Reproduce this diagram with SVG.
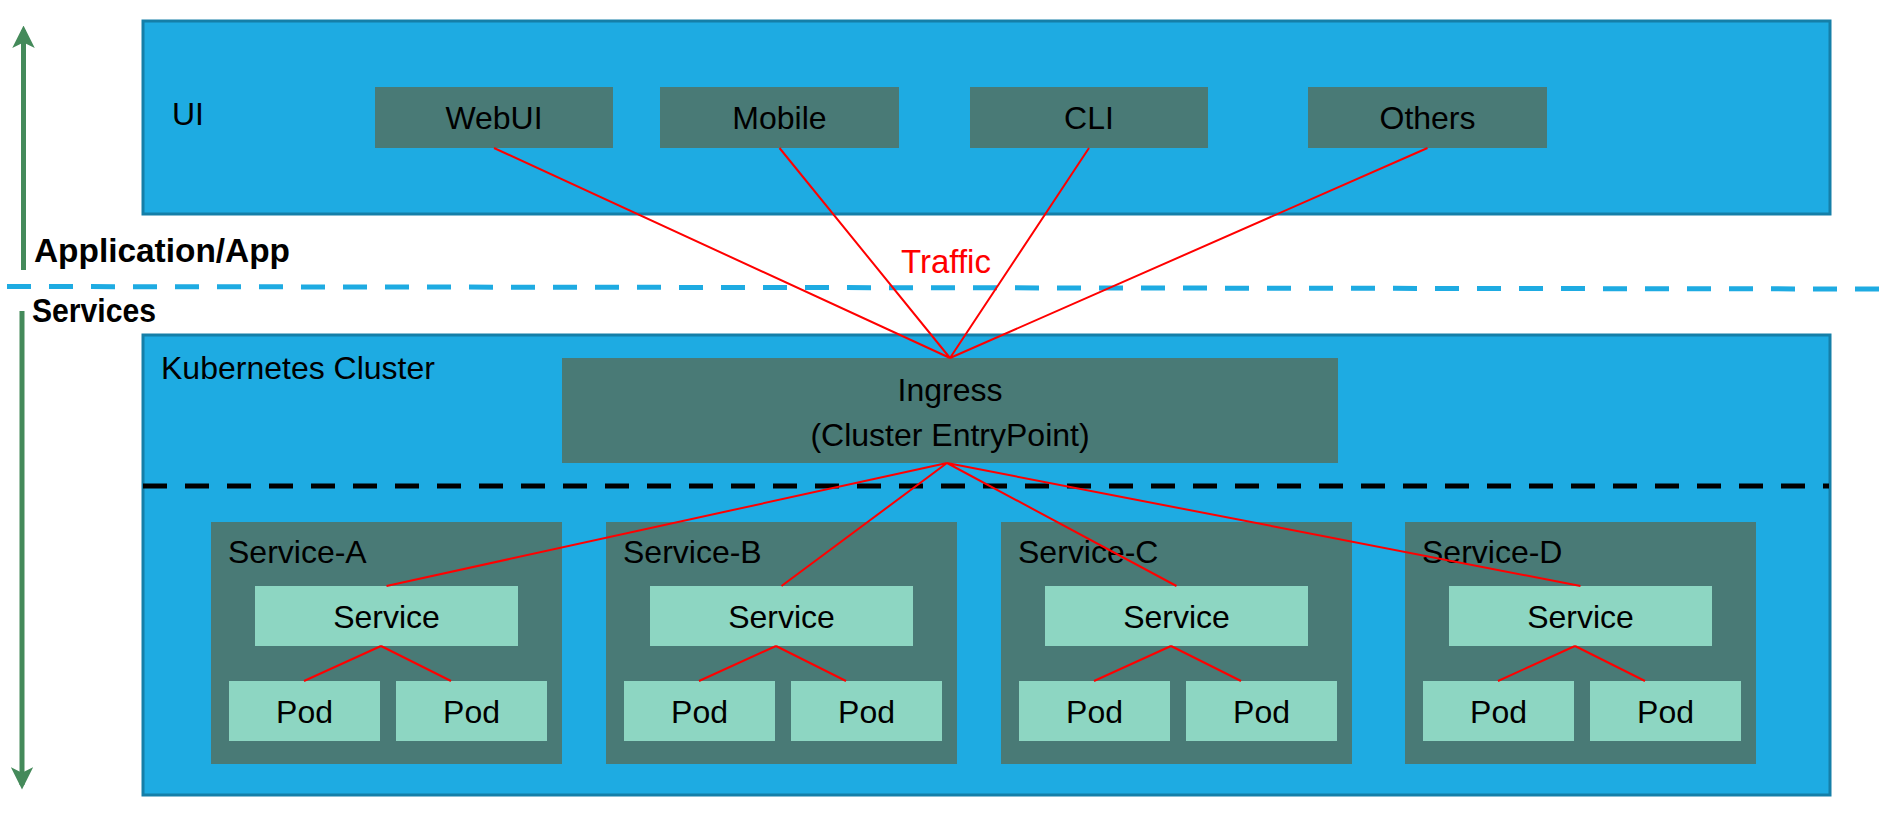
<svg xmlns="http://www.w3.org/2000/svg" width="1879" height="816" viewBox="0 0 1879 816">
<style>
.big{fill:#1eabe2;stroke:#157fa8;stroke-width:3}
.dk{fill:#497a76}
.lt{fill:#8dd6c2}
.t{font-family:"Liberation Sans",Arial,sans-serif;font-size:32px;fill:#000}
.c{text-anchor:middle}
.b{font-family:"Liberation Sans",Arial,sans-serif;font-weight:bold;font-size:34px;fill:#000}
.red{stroke:#ff0000;stroke-width:2;fill:none}
.grn{stroke:#448a5a;stroke-width:5;fill:none}
</style>
<defs>
<marker id="ah" viewBox="0 0 10 10" refX="8" refY="5" markerWidth="4.5" markerHeight="4.5" orient="auto" markerUnits="strokeWidth">
<path d="M0,0 L10,5 L0,10 L2.5,5 Z" fill="#448a5a"/>
</marker>
</defs>
<rect width="1879" height="816" fill="#fff"/>

<g id="ui-layer">
<rect class="big" x="143" y="21" width="1687" height="193"/>
<text class="t" x="172" y="125">UI</text>
</g>
<g id="webui"><rect class="dk" x="375" y="87" width="238" height="61"/><text class="t c" x="494" y="129">WebUI</text></g>
<g id="mobile"><rect class="dk" x="660" y="87" width="239" height="61"/><text class="t c" x="779.5" y="129">Mobile</text></g>
<g id="cli"><rect class="dk" x="970" y="87" width="238" height="61"/><text class="t c" x="1089" y="129">CLI</text></g>
<g id="others"><rect class="dk" x="1308" y="87" width="239" height="61"/><text class="t c" x="1427.5" y="129">Others</text></g>

<g id="layer-labels">
<text class="b" x="34" y="262" textLength="256" lengthAdjust="spacingAndGlyphs">Application/App</text>
<text class="b" x="32" y="322" textLength="124" lengthAdjust="spacingAndGlyphs">Services</text>
<line x1="7" y1="286.5" x2="1879" y2="289" stroke="#1eabe2" stroke-width="5" stroke-dasharray="24 18"/>
</g>

<g id="arrows">
<line class="grn" x1="23.5" y1="270" x2="23.5" y2="30" marker-end="url(#ah)"/>
<line class="grn" x1="22" y1="311" x2="22" y2="785" marker-end="url(#ah)"/>
</g>

<g id="cluster">
<rect class="big" x="143" y="335" width="1687" height="460"/>
<text class="t" x="161" y="379">Kubernetes Cluster</text>
<line x1="143" y1="486" x2="1829" y2="486" stroke="#000" stroke-width="5" stroke-dasharray="24 18"/>
</g>

<g id="ingress">
<rect class="dk" x="562" y="358" width="776" height="105"/>
<text class="t c" x="950" y="401">Ingress</text>
<text class="t c" x="950" y="446">(Cluster EntryPoint)</text>
</g>

<g id="service-a">
<rect class="dk" x="211" y="522" width="351" height="242"/>
<text class="t" x="228" y="563">Service-A</text>
<rect class="lt" x="255" y="586" width="263" height="60"/><text class="t c" x="386.5" y="628">Service</text>
<rect class="lt" x="229" y="681" width="151" height="60"/><text class="t c" x="304.5" y="723">Pod</text>
<rect class="lt" x="396" y="681" width="151" height="60"/><text class="t c" x="471.5" y="723">Pod</text>
</g>
<g id="service-b">
<rect class="dk" x="606" y="522" width="351" height="242"/>
<text class="t" x="623" y="563">Service-B</text>
<rect class="lt" x="650" y="586" width="263" height="60"/><text class="t c" x="781.5" y="628">Service</text>
<rect class="lt" x="624" y="681" width="151" height="60"/><text class="t c" x="699.5" y="723">Pod</text>
<rect class="lt" x="791" y="681" width="151" height="60"/><text class="t c" x="866.5" y="723">Pod</text>
</g>
<g id="service-c">
<rect class="dk" x="1001" y="522" width="351" height="242"/>
<text class="t" x="1018" y="563">Service-C</text>
<rect class="lt" x="1045" y="586" width="263" height="60"/><text class="t c" x="1176.5" y="628">Service</text>
<rect class="lt" x="1019" y="681" width="151" height="60"/><text class="t c" x="1094.5" y="723">Pod</text>
<rect class="lt" x="1186" y="681" width="151" height="60"/><text class="t c" x="1261.5" y="723">Pod</text>
</g>
<g id="service-d">
<rect class="dk" x="1405" y="522" width="351" height="242"/>
<text class="t" x="1422" y="563">Service-D</text>
<rect class="lt" x="1449" y="586" width="263" height="60"/><text class="t c" x="1580.5" y="628">Service</text>
<rect class="lt" x="1423" y="681" width="151" height="60"/><text class="t c" x="1498.5" y="723">Pod</text>
<rect class="lt" x="1590" y="681" width="151" height="60"/><text class="t c" x="1665.5" y="723">Pod</text>
</g>

<g id="connectors">
<path class="red" d="M494,148 L950,358 M779.5,148 L950,358 M1089,148 L950,358 M1427.5,148 L950,358"/>
<path class="red" d="M947,463 L386.5,586 M947,463 L781.5,586 M947,463 L1176.5,586 M947,463 L1580.5,586"/>
<path class="red" d="M381,646 L304,681 M381,646 L451,681 M776,646 L699,681 M776,646 L846,681 M1171,646 L1094,681 M1171,646 L1241,681 M1575,646 L1498,681 M1575,646 L1645,681"/>
<text x="946" y="273" text-anchor="middle" font-family="Liberation Sans, Arial, sans-serif" font-size="33" fill="#ff0000">Traffic</text>
</g>
</svg>
